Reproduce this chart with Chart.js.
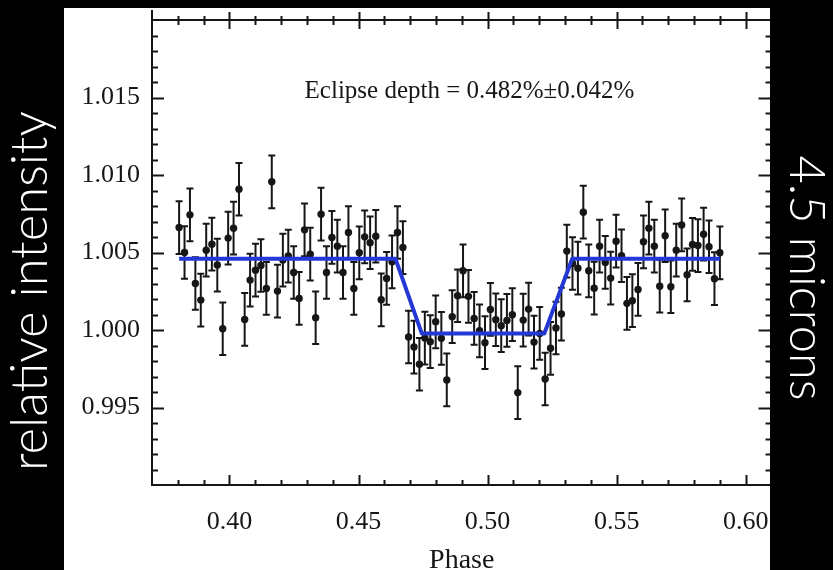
<!DOCTYPE html>
<html>
<head>
<meta charset="utf-8">
<script src="https://cdn.jsdelivr.net/npm/chart.js@4.4.1/dist/chart.umd.min.js"></script>
<style>
  html, body { margin: 0; padding: 0; background: #000; }
  canvas { display: block; }
</style>
</head>
<body>
<canvas id="lightcurve" width="833" height="570"></canvas>
<script>
// Orbital phase of each binned measurement
const phase = [
  0.3805, 0.3826, 0.3847, 0.3868, 0.3889, 0.3910, 0.3932, 0.3953, 0.3974, 0.3995,
  0.4016, 0.4037, 0.4059, 0.4080, 0.4101, 0.4122, 0.4143, 0.4164, 0.4186, 0.4207,
  0.4228, 0.4249, 0.4270, 0.4291, 0.4313, 0.4334, 0.4355, 0.4376, 0.4397, 0.4418,
  0.4440, 0.4461, 0.4482, 0.4503, 0.4524, 0.4545, 0.4567, 0.4588, 0.4609, 0.4630,
  0.4651, 0.4672, 0.4694, 0.4715, 0.4736, 0.4757, 0.4778, 0.4799, 0.4821, 0.4842,
  0.4863, 0.4884, 0.4905, 0.4926, 0.4948, 0.4969, 0.4990, 0.5011, 0.5032, 0.5053,
  0.5075, 0.5096, 0.5117, 0.5138, 0.5159, 0.5180, 0.5202, 0.5223, 0.5244, 0.5265,
  0.5286, 0.5307, 0.5329, 0.5350, 0.5371, 0.5392, 0.5413, 0.5434, 0.5456, 0.5477,
  0.5498, 0.5519, 0.5540, 0.5561, 0.5583, 0.5604, 0.5625, 0.5646, 0.5667, 0.5688,
  0.5710, 0.5731, 0.5752, 0.5773, 0.5794, 0.5815, 0.5837, 0.5858, 0.5879, 0.5900
];

// Relative intensity of each bin
const flux = [
  1.00661, 1.00500, 1.00743, 1.00300, 1.00193, 1.00515, 1.00554, 1.00419, 1.00008, 1.00593,
  1.00657, 1.00908, 1.00068, 1.00322, 1.00386, 1.00416, 1.00268, 1.00956, 1.00251, 1.00451,
  1.00477, 1.00371, 1.00204, 1.00646, 1.00489, 1.00079, 1.00747, 1.00371, 1.00597, 1.00541,
  1.00371, 1.00629, 1.00268, 1.00498, 1.00601, 1.00563, 1.00605, 1.00195, 1.00333, 1.00440,
  1.00629, 1.00532, 0.99955, 0.99890, 0.99779, 0.99948, 0.99925, 1.00053, 0.99946, 0.99678,
  1.00086, 1.00221, 1.00382, 1.00217, 1.00075, 0.99995, 0.99918, 1.00133, 1.00066, 1.00028,
  1.00062, 1.00099, 0.99596, 1.00064, 1.00135, 0.99922, 0.99978, 0.99684, 0.99882, 1.00013,
  1.00103, 1.00509, 1.00429, 1.00399, 1.00760, 1.00382, 1.00270, 1.00541, 1.00436, 1.00335,
  1.00573, 1.00479, 1.00172, 1.00189, 1.00262, 1.00569, 1.00657, 1.00541, 1.00283, 1.00608,
  1.00279, 1.00515, 1.00678, 1.00356, 1.00552, 1.00545, 1.00618, 1.00537, 1.00331, 1.00498
];

// One-sigma uncertainty of each bin
const fluxError = 0.0017;

// Best-fit eclipse model: out-of-eclipse level minus 0.482% depth
const modelPhase = [0.3805, 0.4643, 0.4745, 0.5220, 0.5328, 0.5900];
const modelFlux  = [1.0046, 1.0046, 0.99978, 0.99978, 1.0046, 1.0046];

// Axis tick labels
const xTickLabels = ['0.40', '0.45', '0.50', '0.55', '0.60'];
const yTickLabels = ['0.995', '1.000', '1.005', '1.010', '1.015'];

const depthText = 'Eclipse depth = 0.482%\u00B10.042%';
const xTitle = 'Phase';
const yTitle = 'relative intensity';
const bandText = '4.5 microns';

const SERIF = '"Liberation Serif", "Times New Roman", Times, serif';
const INK = '#161616';

// Black backdrop with the white figure panel
const backdrop = {
  id: 'backdrop',
  beforeDraw(chart) {
    const ctx = chart.ctx;
    ctx.save();
    ctx.fillStyle = '#000';
    ctx.fillRect(0, 0, chart.width, chart.height);
    ctx.fillStyle = '#fff';
    ctx.fillRect(64, 8, 706, 562);
    ctx.restore();
  }
};

// Vertical error bars with short caps
const errorBars = {
  id: 'errorBars',
  beforeDatasetsDraw(chart) {
    const {ctx, scales: {x, y}} = chart;
    ctx.save();
    ctx.strokeStyle = INK;
    ctx.lineWidth = 2;
    ctx.beginPath();
    for (let i = 0; i < phase.length; i++) {
      const px = x.getPixelForValue(phase[i]);
      const top = y.getPixelForValue(flux[i] + fluxError);
      const bot = y.getPixelForValue(flux[i] - fluxError);
      ctx.moveTo(px, top); ctx.lineTo(px, bot);
      ctx.moveTo(px - 3.5, top); ctx.lineTo(px + 3.5, top);
      ctx.moveTo(px - 3.5, bot); ctx.lineTo(px + 3.5, bot);
    }
    ctx.stroke();
    ctx.restore();
  }
};

// Plot box with inward major/minor ticks and the depth annotation
const frame = {
  id: 'frame',
  afterDatasetsDraw(chart) {
    const {ctx, chartArea: a, scales: {x, y}} = chart;
    ctx.save();
    ctx.strokeStyle = INK;
    ctx.lineWidth = 2;
    ctx.beginPath();
    // box
    ctx.moveTo(a.left, 10); ctx.lineTo(a.left, a.bottom);
    ctx.moveTo(a.left - 1, a.bottom); ctx.lineTo(a.right, a.bottom);
    ctx.moveTo(a.left - 1, a.top); ctx.lineTo(a.right, a.top);
    ctx.moveTo(a.right, a.top); ctx.lineTo(a.right, a.bottom);
    // x ticks every 0.01, major every 0.05
    for (let k = 38; k <= 60; k++) {
      const v = k / 100;
      const px = Math.round(x.getPixelForValue(v)) + 0.5;
      const major = xTickLabels.includes(v.toFixed(2));
      ctx.moveTo(px, a.bottom); ctx.lineTo(px, a.bottom - (major ? 10 : 5));
      ctx.moveTo(px, a.top - (major ? 8 : 4)); ctx.lineTo(px, a.top + (major ? 9 : 5));
    }
    // y ticks every 0.001, major every 0.005
    for (let k = 991; k <= 1019; k++) {
      const v = k / 1000;
      const py = Math.round(y.getPixelForValue(v)) + 0.5;
      const major = yTickLabels.includes(v.toFixed(3));
      ctx.moveTo(a.left, py); ctx.lineTo(a.left + (major ? 12 : 6), py);
      ctx.moveTo(a.right, py); ctx.lineTo(a.right - (major ? 13 : 6), py);
    }
    ctx.stroke();

    ctx.fillStyle = INK;
    ctx.font = '25px ' + SERIF;
    ctx.textAlign = 'center';
    ctx.textBaseline = 'alphabetic';
    ctx.fillText(depthText, x.getPixelForValue(0.493), y.getPixelForValue(1.015));
    ctx.restore();
  }
};

// Side captions on the black margins
function fitSize(ctx, text, family, target) {
  ctx.font = '300 40px ' + family;
  return 40 * target / ctx.measureText(text).width;
}
const captions = {
  id: 'captions',
  afterDraw(chart) {
    const ctx = chart.ctx;
    ctx.save();
    ctx.fillStyle = '#000';
    ctx.fillRect(770, 0, chart.width - 770, chart.height);
    ctx.fillRect(0, 0, chart.width, 8);

    const fam = 'Lato, "Open Sans", sans-serif';
    ctx.fillStyle = '#fff';
    ctx.textAlign = 'center';
    ctx.textBaseline = 'alphabetic';

    let s = fitSize(ctx, yTitle, fam, 360);
    ctx.font = '300 ' + s + 'px ' + fam;
    ctx.save();
    ctx.translate(47, 291);
    ctx.rotate(-Math.PI / 2);
    ctx.fillText(yTitle, 0, 0);
    ctx.restore();

    s = fitSize(ctx, bandText, fam, 245);
    ctx.font = '300 ' + s + 'px ' + fam;
    ctx.save();
    ctx.translate(790, 278);
    ctx.rotate(Math.PI / 2);
    ctx.fillText(bandText, 0, 0);
    ctx.restore();
    ctx.restore();
  }
};

new Chart(document.getElementById('lightcurve'), {
  type: 'scatter',
  data: {
    datasets: [
      {
        label: 'model',
        data: modelPhase.map((p, i) => ({x: p, y: modelFlux[i]})),
        showLine: true,
        borderColor: '#2438d6',
        borderWidth: 4,
        borderJoinStyle: 'round',
        pointRadius: 0,
        tension: 0,
        order: 0
      },
      {
        label: 'data',
        data: phase.map((p, i) => ({x: p, y: flux[i]})),
        backgroundColor: INK,
        borderColor: INK,
        borderWidth: 0,
        pointRadius: 3.7,
        order: 1
      }
    ]
  },
  options: {
    responsive: false,
    animation: false,
    layout: { padding: { left: 0, right: 61.5, top: 20, bottom: 0 } },
    plugins: { legend: { display: false }, tooltip: { enabled: false } },
    scales: {
      x: {
        type: 'linear',
        min: 0.37,
        max: 0.61,
        grid: { display: false, drawTicks: false },
        border: { display: false },
        afterFit(scale) {
          scale.height = 85;
          scale.paddingLeft = 0;
          scale.paddingRight = 0;
        },
        ticks: {
          stepSize: 0.05,
          includeBounds: false,
          autoSkip: false,
          maxRotation: 0,
          padding: 22,
          color: INK,
          font: { family: SERIF, size: 26 },
          callback(v) {
            const t = Number(v).toFixed(2);
            return xTickLabels.includes(t) ? t : '';
          }
        },
        title: {
          display: true,
          text: xTitle,
          color: INK,
          font: { family: SERIF, size: 28, lineHeight: 0.8 },
          padding: { top: 0, bottom: -2 }
        }
      },
      y: {
        type: 'linear',
        min: 0.99,
        max: 1.02,
        grid: { display: false, drawTicks: false },
        border: { display: false },
        afterFit(scale) {
          scale.width = 152;
          scale.paddingTop = 0;
          scale.paddingBottom = 0;
        },
        ticks: {
          stepSize: 0.005,
          includeBounds: false,
          autoSkip: false,
          padding: 12,
          color: INK,
          font: { family: SERIF, size: 26 },
          callback(v) {
            const t = Number(v).toFixed(3);
            return yTickLabels.includes(t) ? t : '';
          }
        }
      }
    }
  },
  plugins: [backdrop, errorBars, frame, captions]
});
</script>
</body>
</html>
